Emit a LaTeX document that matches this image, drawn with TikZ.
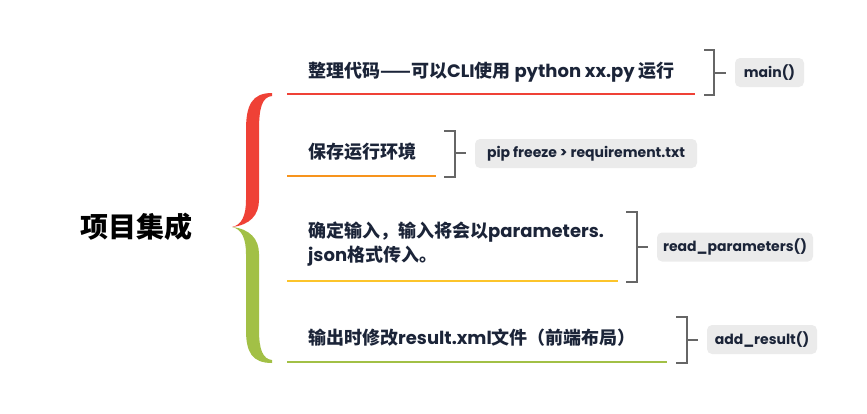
\documentclass[tikz,border=0pt]{standalone}
\usepackage{fontspec}
\setmainfont{Poppins}
\newfontfamily\cjk{Noto Sans CJK SC}
\newcommand{\zh}[1]{{\cjk #1}}
\definecolor{brred}{HTML}{EF4136}
\definecolor{brorange}{HTML}{F7941D}
\definecolor{bryellow}{HTML}{FCC42B}
\definecolor{brgreen}{HTML}{A2C046}
\definecolor{ink}{HTML}{1B2438}
\definecolor{tagbg}{HTML}{EBEBEB}
\definecolor{bkgray}{HTML}{666666}
\tikzset{
  item/.style={anchor=west, inner sep=0pt, text=ink, align=left,
    font=\bfseries\fontsize{18}{24}\selectfont},
  tag/.style={fill=tagbg, rounded corners=5pt, inner sep=0pt, text=ink,
    minimum height=29pt, font=\bfseries\fontsize{14}{16}\selectfont},
  uline/.style={line width=2pt},
  bracket/.style={draw=bkgray, line width=2pt}
}

\begin{document}
\begin{tikzpicture}[x=1pt,y=-1pt]
\useasboundingbox (0,0) rectangle (867,413);

\node[font=\cjk\bfseries\fontsize{28}{30}\selectfont] (title) at (136,227) {项目集成};

\fill[brred] (272,93) .. controls (252,93) and (246,105) .. (246,130) -- (246,200)
  .. controls (246,215) and (242,225) .. (232,227)
  .. controls (250,225) and (259,215) .. (259,200) -- (259,130)
  .. controls (259,108) and (262,97) .. (272,96) -- cycle;
\fill[brgreen] (232,227) .. controls (242,229) and (246,239) .. (246,254) -- (246,330)
  .. controls (246,352) and (252,363) .. (272,363) -- (272,360)
  .. controls (263,359) and (259,350) .. (259,330) -- (259,254)
  .. controls (259,239) and (250,229) .. (232,227) -- cycle;

\node[item] (t1) at (308,72) {\zh{整理代码——可以}CLI\zh{使用} python xx.py \zh{运行}};
\node[item] (t2) at (308,152) {\zh{保存运行环境}};
\node[item] (t3) at (308,244) {\zh{确定输入，输入将会以}parameters.\\json\zh{格式传入。}};
\node[item] (t4) at (308,338) {\zh{输出时修改}result.xml\zh{文件（前端布局）}};

\draw[uline, brred] (287,94) -- (695,94);
\draw[uline, brorange] (287,176) -- (436,176);
\draw[uline, bryellow] (287,281) -- (618,281);
\draw[uline, brgreen] (287,362) -- (667,362);

\node[tag, minimum width=69pt] (main) at (769.5,72.5) {main()};
\node[tag, minimum width=222pt] (pip) at (586,153.5) {pip freeze > requirement.txt};
\node[tag, minimum width=156pt] (readp) at (735,247) {read\_parameters()};
\node[tag, minimum width=110pt] (addr) at (762,339.5) {add\_result()};

\draw[bracket] (704,50) -- (714,50) -- (714,95) -- (704,95);
\draw[bracket] (444,131) -- (455,131) -- (455,177) -- (444,177);
\draw[bracket] (626,212) -- (637,212) -- (637,282) -- (626,282);
\draw[bracket] (676,317) -- (687,317) -- (687,363) -- (676,363);

\coordinate (k1) at (714,73);
\coordinate (k2) at (455,153);
\coordinate (k3) at (637,247);
\coordinate (k4) at (687,340);
\draw[bracket] (k1) -- ([xshift=-9pt]main.west |- k1);
\draw[bracket] (k2) -- ([xshift=-9pt]pip.west |- k2);
\draw[bracket] (k3) -- ([xshift=-9pt]readp.west |- k3);
\draw[bracket] (k4) -- ([xshift=-9pt]addr.west |- k4);
\end{tikzpicture}
\end{document}
